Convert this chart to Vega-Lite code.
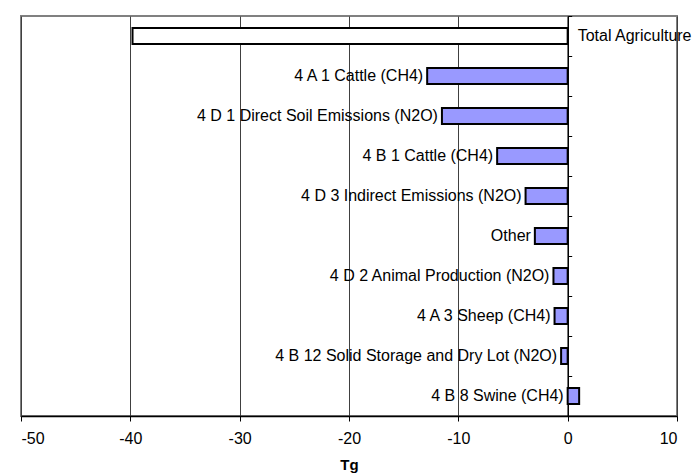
{
  "$schema": "https://vega.github.io/schema/vega-lite/v6.json",
  "autosize": {"type": "none"},
  "padding": {"left": 21, "top": 16, "right": 16, "bottom": 57},
  "width": 656,
  "height": 400,
  "background": "white",
  "config": {
    "font": "Liberation Sans",
    "view": {"stroke": "#808080", "strokeWidth": 2}
  },
  "data": {
    "values": [
      {"name": "Total Agriculture", "value": -39.8, "group": "total"},
      {"name": "4 A 1 Cattle (CH4)", "value": -12.85, "group": "source"},
      {"name": "4 D 1 Direct Soil Emissions (N2O)", "value": -11.5, "group": "source"},
      {"name": "4 B 1 Cattle (CH4)", "value": -6.45, "group": "source"},
      {"name": "4 D 3 Indirect Emissions (N2O)", "value": -3.85, "group": "source"},
      {"name": "Other", "value": -3.0, "group": "source"},
      {"name": "4 D 2 Animal Production (N2O)", "value": -1.3, "group": "source"},
      {"name": "4 A 3 Sheep (CH4)", "value": -1.2, "group": "source"},
      {"name": "4 B 12 Solid Storage and Dry Lot (N2O)", "value": -0.6, "group": "source"},
      {"name": "4 B 8 Swine (CH4)", "value": 1.05, "group": "source"}
    ]
  },
  "layer": [
    {
      "mark": {"type": "bar", "stroke": "black", "strokeWidth": 2},
      "encoding": {
        "y": {
          "field": "name", "type": "nominal", "sort": null,
          "scale": {"paddingInner": 0.6, "paddingOuter": 0.3},
          "axis": {
            "orient": "right", "offset": -109.3, "title": null, "labels": false,
            "domainColor": "black", "domainWidth": 1.5, "tickColor": "black",
            "tickSize": 4, "bandPosition": -0.75, "grid": false
          }
        },
        "x": {
          "field": "value", "type": "quantitative",
          "scale": {"domain": [-50, 10], "nice": false, "zero": false},
          "axis": {
            "values": [-50, -40, -30, -20, -10, 0, 10],
            "labelExpr": "toString(datum.value)",
            "title": "Tg", "titleFontWeight": "bold", "titleFontSize": 15, "titleColor": "black",
            "titlePadding": 11,
            "grid": true, "gridColor": "#404040", "gridWidth": 1,
            "domainColor": "black", "domainWidth": 1.5,
            "tickColor": "black", "tickSize": 5,
            "labelFontSize": 16, "labelColor": "black", "labelPadding": 9
          }
        },
        "x2": {"datum": 0},
        "color": {
          "field": "group", "type": "nominal",
          "scale": {"domain": ["total", "source"], "range": ["#FFFFFF", "#9999FF"]},
          "legend": null
        }
      }
    },
    {
      "transform": [{"filter": "datum.group == 'total'"}],
      "mark": {"type": "text", "align": "left", "baseline": "middle", "dx": 10, "fontSize": 16, "color": "black"},
      "encoding": {
        "y": {"field": "name", "type": "nominal", "sort": null},
        "x": {"datum": 0},
        "text": {"field": "name"}
      }
    },
    {
      "transform": [
        {"filter": "datum.group != 'total'"},
        {"calculate": "min(datum.value, 0)", "as": "lx"}
      ],
      "mark": {"type": "text", "align": "right", "baseline": "middle", "dx": -4, "fontSize": 16, "color": "black"},
      "encoding": {
        "y": {"field": "name", "type": "nominal", "sort": null},
        "x": {"field": "lx", "type": "quantitative"},
        "text": {"field": "name"}
      }
    }
  ]
}
